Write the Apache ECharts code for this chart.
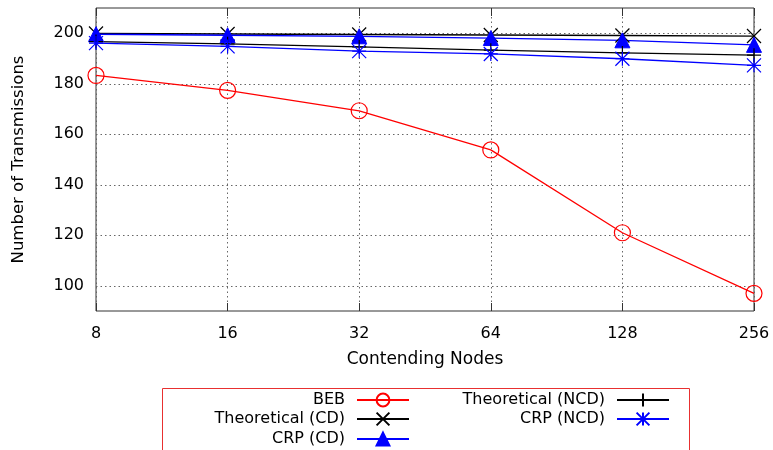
<!DOCTYPE html>
<html lang="en">
<head>
  <meta charset="UTF-8">
  <title>Number of Transmissions</title>
  <style>
    html, body { margin: 0; padding: 0; background: #fff; }
  </style>
</head>
<body>
  <div id="main" style="width: 773px; height: 450px"></div>
  <script src="https://cdn.jsdelivr.net/npm/echarts@6/dist/echarts.min.js"></script>
  <script>
    // values
    const nodes = ['8', '16', '32', '64', '128', '256']
    const beb = [183.3, 177.4, 169.3, 153.8, 121.0, 97.0]
    const theoCD = [199.9, 199.7, 199.5, 199.3, 199.1, 198.9]
    const crpCD = [199.6, 199.2, 198.8, 198.1, 197.2, 195.4]
    const theoNCD = [196.7, 195.8, 194.6, 193.3, 192.2, 191.3]
    const crpNCD = [196.1, 194.8, 192.9, 191.8, 189.9, 187.3]
    const yTicks = [100, 120, 140, 160, 180, 200]

    const FONT = 'DejaVu Sans'
    const RED = '#ff0000'
    const BLUE = '#0000ff'
    const BLACK = '#000000'
    const NONE = 'rgba(0,0,0,0)'

    // gnuplot-like point types
    const X_MARK = 'path://M0,0L10,10M10,0L0,10'
    const PLUS_MARK = 'path://M5,0L5,10M0,5L10,5'
    const STAR_MARK = 'path://M0,0L10,10M10,0L0,10M0,5L10,5M5,0L5,10'

    function lineSeries(name, data, color, symbol, size, fill, bw) {
      return {
        name: name,
        type: 'line',
        data: data,
        symbol: symbol,
        symbolSize: size,
        symbolKeepAspect: true,
        showAllSymbol: true,
        lineStyle: { color: color, width: 1.3 },
        itemStyle: {
          color: fill,
          borderColor: color,
          borderWidth: bw
        }
      }
    }

    function legendItem(name, right, top) {
      return {
        data: [name],
        right: right,
        top: top,
        orient: 'vertical',
        align: 'right',
        itemWidth: 52,
        itemHeight: 16,
        padding: 0,
        textStyle: { fontFamily: FONT, fontSize: 16, color: '#000', padding: [0, 7, 0, 0] }
      }
    }

    const myChart = echarts.init(document.getElementById('main'))
    const option = {
      animation: false,
      textStyle: { fontFamily: FONT },
      grid: {
        left: 96, right: 19, top: 8, bottom: 139,
        show: true, borderColor: '#333', borderWidth: 1
      },
      legend: [
        legendItem('BEB', 363, 392),
        legendItem('Theoretical (CD)', 363, 411),
        legendItem('CRP (CD)', 363, 431),
        legendItem('Theoretical (NCD)', 103, 392),
        legendItem('CRP (NCD)', 103, 411)
      ],
      graphic: [
        {
          type: 'rect',
          shape: { x: 162.5, y: 388.5, width: 527, height: 80 },
          style: { fill: 'none', stroke: '#e83030', lineWidth: 1 },
          silent: true
        }
      ],
      xAxis: [
        {
          type: 'category',
          data: nodes,
          boundaryGap: false,
          name: 'Contending Nodes',
          nameLocation: 'middle',
          nameGap: 40,
          nameTextStyle: { fontFamily: FONT, fontSize: 17, color: '#000' },
          axisLine: { show: false },
          axisTick: { inside: true, length: 8, lineStyle: { color: '#333' } },
          axisLabel: { fontFamily: FONT, fontSize: 16, color: '#000', margin: 15 },
          splitLine: { show: true, lineStyle: { color: '#666', type: [1.5, 3], width: 1 } }
        },
        {
          type: 'category',
          data: nodes,
          boundaryGap: false,
          position: 'top',
          axisLine: { show: false },
          axisTick: { inside: true, length: 8, lineStyle: { color: '#333' } },
          axisLabel: { show: false },
          splitLine: { show: false }
        }
      ],
      yAxis: [
        {
          type: 'value',
          min: 90,
          max: 210,
          name: 'Number of Transmissions',
          nameLocation: 'middle',
          nameGap: 69,
          nameTextStyle: { fontFamily: FONT, fontSize: 16.5, color: '#000' },
          axisLine: { show: false },
          axisTick: { inside: true, length: 8, customValues: yTicks, lineStyle: { color: '#333' } },
          axisLabel: { fontFamily: FONT, fontSize: 16, color: '#000', margin: 12, customValues: yTicks },
          splitLine: { show: true, lineStyle: { color: '#666', type: [1.5, 3], width: 1 } }
        },
        {
          type: 'value',
          min: 90,
          max: 210,
          position: 'right',
          axisLine: { show: false },
          axisTick: { inside: true, length: 8, customValues: yTicks, lineStyle: { color: '#333' } },
          axisLabel: { show: false, customValues: yTicks },
          splitLine: { show: false }
        }
      ],
      series: [
        lineSeries('BEB', beb, RED, 'circle', 16, NONE, 1.2),
        lineSeries('Theoretical (CD)', theoCD, BLACK, X_MARK, 14, BLACK, 1.2),
        lineSeries('CRP (CD)', crpCD, BLUE, 'triangle', 15, BLUE, 1),
        lineSeries('Theoretical (NCD)', theoNCD, BLACK, PLUS_MARK, 14, BLACK, 1.2),
        lineSeries('CRP (NCD)', crpNCD, BLUE, STAR_MARK, 14, BLUE, 1.2)
      ]
    }
    myChart.setOption(option)
  </script>
</body>
</html>
